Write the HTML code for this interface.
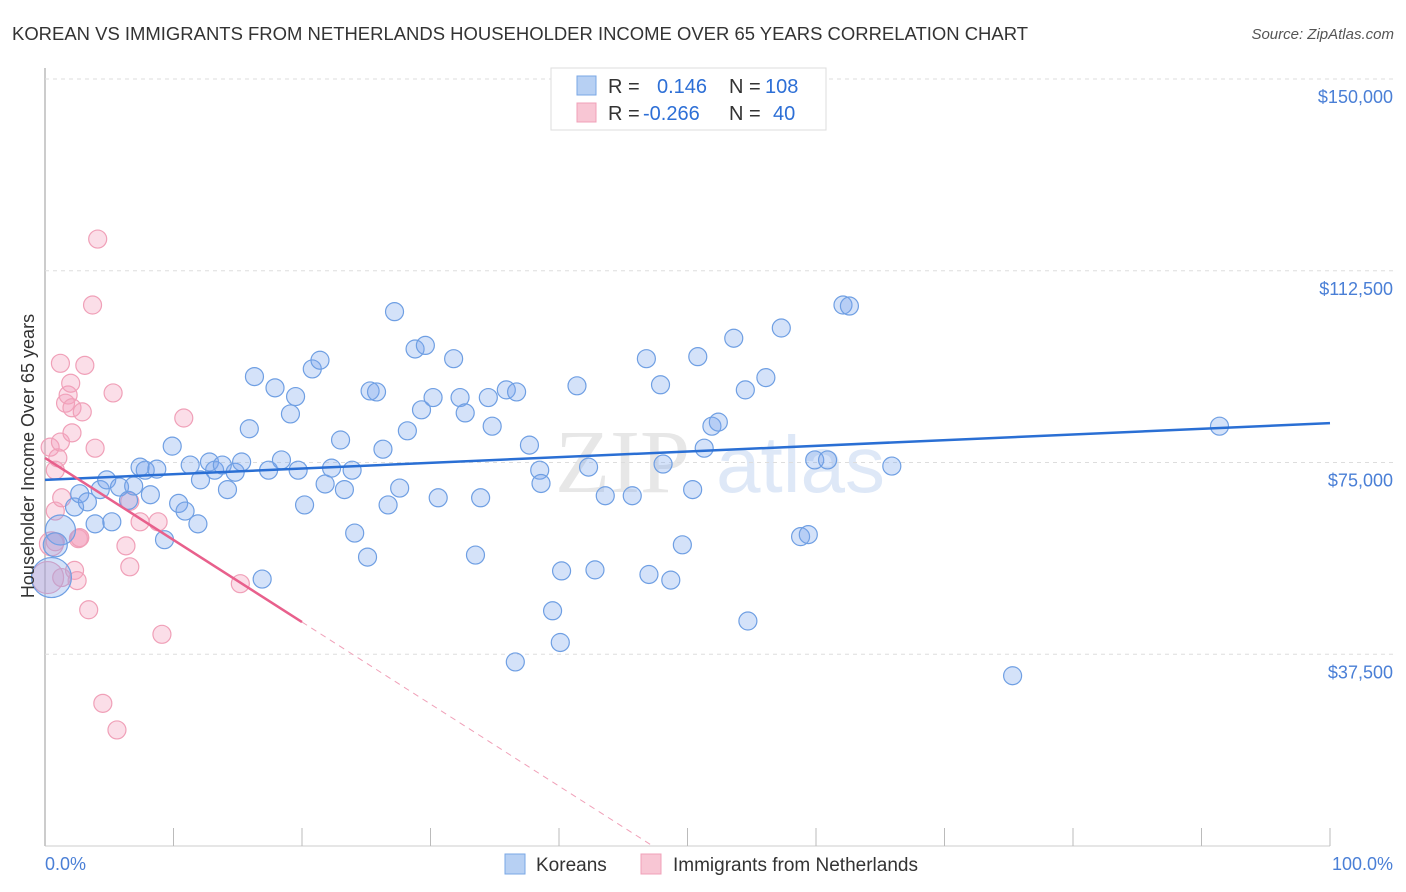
<!DOCTYPE html>
<html><head><meta charset="utf-8">
<style>
body{margin:0;background:#fff;font-family:"Liberation Sans",sans-serif;}
#wrap{position:relative;width:1406px;height:892px;overflow:hidden}
</style></head>
<body>
<div id="wrap">
<svg id="svg" width="1406" height="892" xmlns="http://www.w3.org/2000/svg">
<text x="12" y="40" font-size="18" fill="#333" textLength="1016" lengthAdjust="spacingAndGlyphs">KOREAN VS IMMIGRANTS FROM NETHERLANDS HOUSEHOLDER INCOME OVER 65 YEARS CORRELATION CHART</text>
<text x="1394" y="39" font-size="15" fill="#555" font-style="italic" text-anchor="end">Source: ZipAtlas.com</text>
<text x="555" y="492" font-size="90" fill="#ddd" font-family="Liberation Serif,serif" opacity="0.7">ZIP</text>
<text x="716" y="492" font-size="80" fill="#c9d9f2" opacity="0.6">atlas</text>
<g id="grid"></g><g id="marks"></g>
<text transform="translate(34,456) rotate(-90)" font-size="18" fill="#333" text-anchor="middle">Householder Income Over 65 years</text>
<text x="45" y="870" font-size="18" fill="#4a7fd6">0.0%</text>
<text x="1393" y="870" font-size="18" fill="#4a7fd6" text-anchor="end">100.0%</text>
<g>
<rect x="551" y="68" width="275" height="62" fill="#fff" stroke="#ddd"/>
<rect x="577" y="76" width="19" height="19" fill="#b7d0f3" stroke="#7aa7e6"/>
<rect x="577" y="103" width="19" height="19" fill="#f8c6d4" stroke="#f0a0b8"/>
<text x="608" y="93" font-size="20" fill="#333">R =</text>
<text x="657" y="93" font-size="20" fill="#2d6fd6">0.146</text>
<text x="729" y="93" font-size="20" fill="#333">N =</text>
<text x="765" y="93" font-size="20" fill="#2d6fd6">108</text>
<text x="608" y="120" font-size="20" fill="#333">R =</text>
<text x="643" y="120" font-size="20" fill="#2d6fd6">-0.266</text>
<text x="729" y="120" font-size="20" fill="#333">N =</text>
<text x="773" y="120" font-size="20" fill="#2d6fd6">40</text>
</g>
<g>
<rect x="505" y="854" width="20" height="20" fill="#b7d0f3" stroke="#7aa7e6"/>
<text x="536" y="871" font-size="19" fill="#333">Koreans</text>
<rect x="641" y="854" width="20" height="20" fill="#f8c6d4" stroke="#f0a0b8"/>
<text x="673" y="871" font-size="19" fill="#333">Immigrants from Netherlands</text>
</g>
</svg>
</div>
<script>
const yTicks=[37500,75000,112500,150000];
const yTickLabels=["$37,500","$75,000","$112,500","$150,000"];
const xTicks=[0,10,20,30,40,50,60,70,80,90,100];
const blueX=[0.5,1.2,0.8,2.3,2.7,3.3,3.9,4.3,4.8,5.2,5.8,6.5,6.9,7.4,7.8,8.2,8.7,9.3,9.9,10.4,10.9,11.3,11.9,12.1,12.8,13.2,13.8,14.2,14.8,15.3,15.9,16.3,16.9,17.4,17.9,18.4,19.1,19.5,19.7,20.2,20.8,21.4,21.8,22.3,23.0,23.3,23.9,24.1,25.1,25.3,25.8,26.3,26.7,27.2,27.6,28.2,28.8,29.3,29.6,30.2,30.6,31.8,32.3,32.7,33.5,33.9,34.5,34.8,35.9,36.6,36.7,37.7,38.5,38.6,39.5,40.1,40.2,41.4,42.3,42.8,43.6,45.7,46.8,47.0,47.9,48.1,48.7,49.6,50.4,50.8,51.3,51.9,52.4,53.6,54.5,54.7,56.1,57.3,58.8,59.4,59.9,60.9,62.1,62.6,65.9,75.3,91.4];
const blueY=[52.5,61.8,58.9,66.3,68.9,67.3,63.0,69.7,71.6,63.4,70.2,67.6,70.4,74.1,73.5,68.7,73.7,59.9,78.2,67.0,65.5,74.5,63.0,71.6,75.1,73.5,74.5,69.7,73.1,75.1,81.6,91.8,52.2,73.5,89.6,75.5,84.5,87.9,73.5,66.7,93.3,95.0,70.8,73.9,79.4,69.7,73.5,61.2,56.5,89.0,88.8,77.6,66.7,104.5,70.0,81.2,97.2,85.3,97.9,87.7,68.1,95.3,87.7,84.7,56.9,68.1,87.7,82.1,89.2,36.0,88.8,78.4,73.5,70.9,46.0,39.8,53.8,90.0,74.1,54.0,68.5,68.5,95.3,53.1,90.2,74.7,52.0,58.9,69.7,95.7,77.8,82.1,82.9,99.3,89.2,44.0,91.6,101.3,60.5,60.9,75.5,75.5,105.8,105.6,74.3,33.3,82.1];
const blueR=[20,15,12,9,9,9,9,9,9,9,9,9,9,9,9,9,9,9,9,9,9,9,9,9,9,9,9,9,9,9,9,9,9,9,9,9,9,9,9,9,9,9,9,9,9,9,9,9,9,9,9,9,9,9,9,9,9,9,9,9,9,9,9,9,9,9,9,9,9,9,9,9,9,9,9,9,9,9,9,9,9,9,9,9,9,9,9,9,9,9,9,9,9,9,9,9,9,9,9,9,9,9,9,9,9,9,9];
const pinkX=[0.2,0.4,0.8,0.5,0.8,1.0,1.2,1.3,1.3,1.6,1.8,2.0,2.1,2.1,2.3,2.5,2.6,2.7,2.9,3.1,3.4,3.9,4.1,3.7,1.2,5.3,6.3,6.6,6.6,7.4,8.8,9.1,10.8,4.5,5.6,15.2,2.7,0.8];
const pinkY=[52.5,78.0,73.5,59.1,65.5,75.9,79.0,68.1,52.5,86.6,88.2,90.5,85.7,80.8,53.9,51.9,60.1,60.3,84.9,94.0,46.2,77.8,118.7,105.8,94.4,88.6,58.7,54.6,67.4,63.4,63.4,41.4,83.7,27.9,22.7,51.3,60.3,59.5];
const pinkR=[16,9,9,12,9,9,9,9,9,9,9,9,9,9,9,9,9,9,9,9,9,9,9,9,9,9,9,9,9,9,9,9,9,9,9,9,9,9];
const blueTrend=[[0,71.6],[100,82.7]];
const pinkTrend=[[0,75.9],[20,43.8]];
const pinkTrendExt=[[20,43.8],[47.3,0]];
const X=v=>45+v/100*1285, Y=v=>846-v/150*767;
const NS="http://www.w3.org/2000/svg";
function mk(t,a,p){const e=document.createElementNS(NS,t);for(const k in a)e.setAttribute(k,a[k]);p.appendChild(e);return e;}
const grid=document.getElementById('grid'),marks=document.getElementById('marks');
let ax=mk('line',{x1:45,y1:68,x2:45,y2:846,stroke:'#bbb','stroke-width':1.5},grid);


let bx=mk('line',{x1:45,y1:846,x2:1330,y2:846,stroke:'#ccc'},grid);


yTicks.forEach((t,i)=>{
  const l=mk('line',{x1:45,y1:Y(t/1000),x2:1395,y2:Y(t/1000),stroke:'#ddd','stroke-dasharray':'4,4'},grid);
  
  
  const tx=mk('text',{x:1393,y:Y(t/1000)+24,'font-size':18,fill:'#4a7fd6','text-anchor':'end'},grid);
  tx.textContent=yTickLabels[i];
  
  
});
xTicks.forEach(t=>{
  const l=mk('line',{x1:X(t),y1:828,x2:X(t),y2:846,stroke:'#bbb'},grid);
  
  
});
function dots(xs,ys,rs,fill,stroke,name){
  xs.forEach((x,i)=>{
    const c=mk('circle',{cx:X(x),cy:Y(ys[i]),r:rs[i],fill:fill,stroke:stroke,'stroke-width':1.2},marks);
    
    
  });
}
dots(pinkX,pinkY,pinkR,'rgba(244,160,190,0.35)','#f0a0b8','netherlands-point');
dots(blueX,blueY,blueR,'rgba(120,165,235,0.32)','#6f9fe3','korean-point');
const bl=mk('line',{x1:X(blueTrend[0][0]),y1:Y(blueTrend[0][1]),x2:X(blueTrend[1][0]),y2:Y(blueTrend[1][1]),stroke:'#2a6fd4','stroke-width':2.5},marks);


const pl=mk('line',{x1:X(pinkTrend[0][0]),y1:Y(pinkTrend[0][1]),x2:X(pinkTrend[1][0]),y2:Y(pinkTrend[1][1]),stroke:'#e8608c','stroke-width':2.5},marks);


const pd=mk('line',{x1:X(pinkTrendExt[0][0]),y1:Y(pinkTrendExt[0][1]),x2:X(pinkTrendExt[1][0]),y2:Y(pinkTrendExt[1][1]),stroke:'#f0a0b8','stroke-width':1,'stroke-dasharray':'6,5'},marks);


</script>
</body></html>
